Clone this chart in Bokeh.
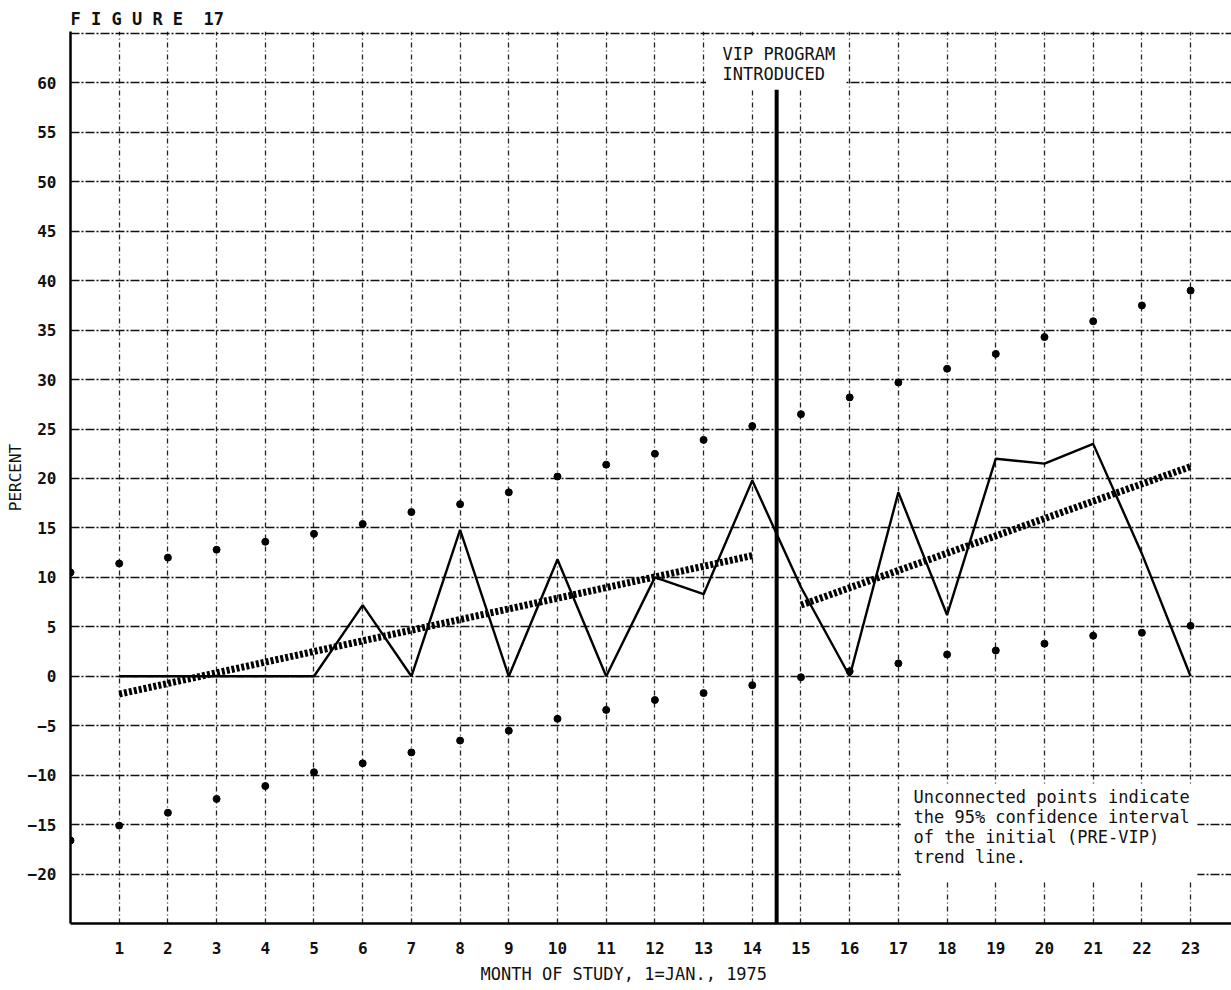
import math
from bokeh.plotting import figure
from bokeh.models import Label, FixedTicker, Range1d, BoxAnnotation, Title
from bokeh.embed import file_html
from bokeh.resources import INLINE

# ---- data ----
months = list(range(1, 24))
percent = [0, 0, 0, 0, 0, 7.2, 0, 14.8, 0, 11.8, 0, 10.0, 8.3, 19.8,
           9.0, 0, 18.6, 6.2, 22.0, 21.5, 23.5, 12.4, 0]

ci_months = list(range(0, 24))
ci_upper = [10.5, 11.4, 12.0, 12.8, 13.6, 14.4, 15.4, 16.6, 17.4, 18.6, 20.2, 21.4,
            22.5, 23.9, 25.3, 26.5, 28.2, 29.7, 31.1, 32.6, 34.3, 35.9, 37.5, 39.0]
ci_lower = [-16.6, -15.1, -13.8, -12.4, -11.1, -9.7, -8.8, -7.7, -6.5, -5.5, -4.3, -3.4,
            -2.4, -1.7, -0.9, -0.1, 0.5, 1.3, 2.2, 2.6, 3.3, 4.1, 4.4, 5.1]

pre_trend_x = [1, 14]
pre_trend_y = [-1.8, 12.2]
post_trend_x = [15, 23]
post_trend_y = [7.2, 21.2]

vip_month = 14.5
vip_top = 59.5

x_ticks = list(range(1, 24))
y_ticks = list(range(-20, 65, 5))

MONO = "DejaVu Sans Mono"
INK = "#111111"

p = figure(width=1231, height=990, x_range=Range1d(0, 23.84), y_range=Range1d(-25, 65.2),
           output_backend="svg", toolbar_location=None,
           min_border_left=70, min_border_right=0, min_border_top=31, min_border_bottom=67)
p.outline_line_color = None
p.background_fill_color = "white"
p.border_fill_color = "white"

# title above
p.title.text = "F I G U R E\u00a0\u00a017"
p.title.text_font = MONO
p.title.text_font_size = "17px"
p.title.text_font_style = "bold"
p.title.text_color = INK
p.title.align = "left"
p.title.offset = 0
p.title.standoff = 6

# axes
p.xaxis.ticker = FixedTicker(ticks=x_ticks)
p.yaxis.ticker = FixedTicker(ticks=y_ticks)
for ax in (p.xaxis, p.yaxis):
    ax.major_tick_line_color = None
    ax.minor_tick_line_color = None
    ax.axis_line_color = "black"
    ax.axis_line_width = 2.5
    ax.major_label_text_font = MONO
    ax.major_label_text_font_size = "16px"
    ax.major_label_text_font_style = "bold"
    ax.major_label_text_color = INK
p.xaxis.major_label_standoff = 12
p.yaxis.major_label_standoff = 8

# axis titles as side titles
xlab = Title(text="MONTH OF STUDY, 1=JAN., 1975", align="left", offset=410,
             text_font=MONO, text_font_size="17px", text_font_style="normal",
             text_color=INK, standoff=11)
p.add_layout(xlab, "below")
ylab = Title(text="PERCENT", align="center", text_font=MONO, text_font_size="16px",
             text_font_style="normal", text_color=INK, standoff=0)
p.add_layout(ylab, "left")

# grid
p.xgrid.ticker = FixedTicker(ticks=list(range(0, 25)))
p.ygrid.ticker = FixedTicker(ticks=list(range(-25, 70, 5)))
p.xgrid.grid_line_color = "#222222"
p.xgrid.grid_line_width = 1.3
p.xgrid.grid_line_dash = "5 3 1 3"
p.ygrid.grid_line_color = INK
p.ygrid.grid_line_width = 1.7
p.ygrid.grid_line_dash = "9 2 2 2"

# white masks behind annotations
p.add_layout(BoxAnnotation(left=13.05, right=15.9, top=64.7, bottom=59.3,
                           fill_color="white", fill_alpha=1.0, line_color=None))
p.add_layout(BoxAnnotation(left=17.05, right=23.14, top=-10.9, bottom=-20.8,
                           fill_color="white", fill_alpha=1.0, line_color=None))

# VIP line
p.segment(x0=[vip_month], y0=[vip_top], x1=[vip_month], y1=[-25],
          line_color="black", line_width=4)

# trend lines
p.line(pre_trend_x, pre_trend_y, line_color="black", line_width=7, line_dash="3 2")
p.line(post_trend_x, post_trend_y, line_color="black", line_width=7, line_dash="3 2")

# monthly series
p.line(months, percent, line_color="black", line_width=2.4)

# confidence interval points
p.scatter(ci_months, ci_upper, size=7, color="black")
p.scatter(ci_months, ci_lower, size=7, color="black")

def lab(x, y, text):
    p.add_layout(Label(x=x, y=y, text=text, text_font=MONO, text_font_size="17px",
                       text_align="left", text_baseline="middle", text_color=INK))

lab(13.39, 62.9, "VIP PROGRAM")
lab(13.39, 60.9, "INTRODUCED")

note = ["Unconnected points indicate", "the 95% confidence interval",
        "of the initial (PRE-VIP)", "trend line."]
for i, t in enumerate(note):
    lab(17.31, -12.23 - 2.02 * i, t)

open("out.html", "w").write(file_html(p, INLINE))
